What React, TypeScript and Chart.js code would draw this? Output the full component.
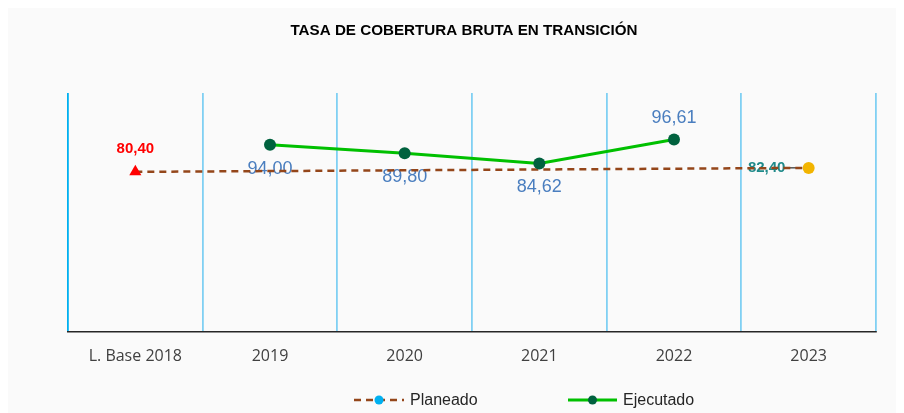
import React, { useEffect, useRef } from "react";
import { Chart, registerables } from "chart.js";

Chart.register(...registerables);

const TITLE = "TASA DE COBERTURA BRUTA EN TRANSICIÓN";
const CATEGORIES = ["L. Base 2018", "2019", "2020", "2021", "2022", "2023"];
const PLANEADO: (number | null)[] = [80.4, null, null, null, null, 82.4];
const EJECUTADO: (number | null)[] = [null, 94.0, 89.8, 84.62, 96.61, null];
const PLANEADO_LABEL = "Planeado";
const EJECUTADO_LABEL = "Ejecutado";
const Y_MIN = 0;
const Y_MAX = 120;

const fmt = (v: number) => v.toFixed(2).replace(".", ",");

const BROWN = "#94461a";
const GREEN = "#00c000";
const DARKGREEN = "#00613e";
const LABEL_BLUE = "#4a7ebf";

export default function App() {
  const ref = useRef<HTMLCanvasElement | null>(null);

  useEffect(() => {
    const canvas = ref.current;
    if (!canvas) return;

    const bgPlugin = {
      id: "bg",
      beforeDraw(chart: any) {
        const { ctx, width, height } = chart;
        ctx.save();
        ctx.fillStyle = "#fafafa";
        ctx.fillRect(0, 0, width, height);
        ctx.restore();
      },
    };

    const labelsPlugin = {
      id: "labels",
      beforeDatasetsDraw(chart: any) {
        const ctx = chart.ctx;
        ctx.save();
        ctx.textAlign = "center";
        ctx.textBaseline = "middle";
        const m0 = chart.getDatasetMeta(0);
        PLANEADO.forEach((v, i) => {
          if (v == null) return;
          const p = m0.data[i];
          ctx.font = "bold 15px 'Liberation Sans', Arial, sans-serif";
          if (i === 0) {
            ctx.fillStyle = "#ff0000";
            ctx.fillText(fmt(v), p.x, p.y - 23);
          } else {
            ctx.fillStyle = "#1f8a8a";
            ctx.fillText(fmt(v), p.x - 42, p.y);
            ctx.strokeStyle = "#000";
            ctx.lineWidth = 1;
            ctx.beginPath();
            ctx.moveTo(p.x - 19, p.y);
            ctx.lineTo(p.x - 7, p.y);
            ctx.stroke();
          }
        });
        const m1 = chart.getDatasetMeta(1);
        ctx.font = "18px 'Liberation Sans', Arial, sans-serif";
        ctx.fillStyle = LABEL_BLUE;
        EJECUTADO.forEach((v, i) => {
          if (v == null) return;
          const p = m1.data[i];
          const above = i === 4;
          ctx.fillText(fmt(v), p.x, above ? p.y - 22 : p.y + 24);
        });
        ctx.restore();
      },
    };

    const overlayPlugin = {
      id: "overlay",
      afterDraw(chart: any) {
        const ctx = chart.ctx;
        ctx.save();
        ctx.font = "bold 15.2px 'Liberation Sans', Arial, sans-serif";
        ctx.fillStyle = "#000";
        ctx.textAlign = "center";
        ctx.textBaseline = "middle";
        ctx.fillText(TITLE, 456, 23);
        const ly = 392;
        ctx.font = "16px 'Liberation Sans', Arial, sans-serif";
        ctx.textAlign = "left";
        ctx.strokeStyle = BROWN;
        ctx.lineWidth = 2.5;
        ctx.setLineDash([7, 5]);
        ctx.beginPath();
        ctx.moveTo(346, ly);
        ctx.lineTo(396, ly);
        ctx.stroke();
        ctx.setLineDash([]);
        ctx.fillStyle = "#00b0f0";
        ctx.beginPath();
        ctx.arc(371, ly, 4.5, 0, Math.PI * 2);
        ctx.fill();
        ctx.fillStyle = "#262626";
        ctx.fillText(PLANEADO_LABEL, 402, ly + 1);
        ctx.strokeStyle = GREEN;
        ctx.lineWidth = 3;
        ctx.beginPath();
        ctx.moveTo(560, ly);
        ctx.lineTo(609, ly);
        ctx.stroke();
        ctx.fillStyle = DARKGREEN;
        ctx.beginPath();
        ctx.arc(584.5, ly, 4.5, 0, Math.PI * 2);
        ctx.fill();
        ctx.fillStyle = "#262626";
        ctx.fillText(EJECUTADO_LABEL, 615, ly + 1);
        ctx.restore();
      },
    };

    const chart = new Chart(canvas, {
      type: "line",
      data: {
        labels: CATEGORIES,
        datasets: [
          {
            label: PLANEADO_LABEL,
            data: PLANEADO,
            spanGaps: true,
            borderColor: BROWN,
            borderWidth: 2.5,
            borderDash: [7, 5],
            pointStyle: ["triangle", "circle", "circle", "circle", "circle", "circle"] as any,
            pointRadius: [7, 0, 0, 0, 0, 6] as any,
            pointBackgroundColor: ["#ff0000", "#fff", "#fff", "#fff", "#fff", "#f2b400"] as any,
            pointBorderColor: ["#ff0000", "#fff", "#fff", "#fff", "#fff", "#f2b400"] as any,
            pointBorderWidth: 0,
            order: 2,
          },
          {
            label: EJECUTADO_LABEL,
            data: EJECUTADO,
            borderColor: GREEN,
            borderWidth: 3,
            pointRadius: 6,
            pointBackgroundColor: DARKGREEN,
            pointBorderColor: DARKGREEN,
            pointBorderWidth: 0,
            order: 1,
          },
        ],
      },
      options: {
        animation: false,
        responsive: false,
        maintainAspectRatio: false,
        layout: { padding: { left: 60, right: 28, top: 85, bottom: 0 } },
        plugins: {
          legend: { display: false },
          title: { display: false },
          tooltip: { enabled: false },
        },
        scales: {
          x: {
            offset: true,
            grid: {
              offset: true,
              drawTicks: false,
              lineWidth: 1.8,
              color: (c: any) =>
                c.index === 0 || c.index === CATEGORIES.length ? "#00b0f0" : "#80d0f3",
            },
            border: { display: true, color: "#262626", width: 1.5 },
            ticks: {
              padding: 15,
              color: "#404040",
              font: { family: "'Open Sans', sans-serif", size: 16 },
            },
            afterFit(scale: any) {
              scale.height = 81;
            },
          },
          y: {
            display: false,
            min: Y_MIN,
            max: Y_MAX,
          },
        },
      },
      plugins: [bgPlugin, labelsPlugin, overlayPlugin],
    });

    return () => chart.destroy();
  }, []);

  return (
    <div style={{ width: 896, height: 405 }}>
      <canvas ref={ref} width={896} height={405} style={{ display: "block" }} />
    </div>
  );
}
